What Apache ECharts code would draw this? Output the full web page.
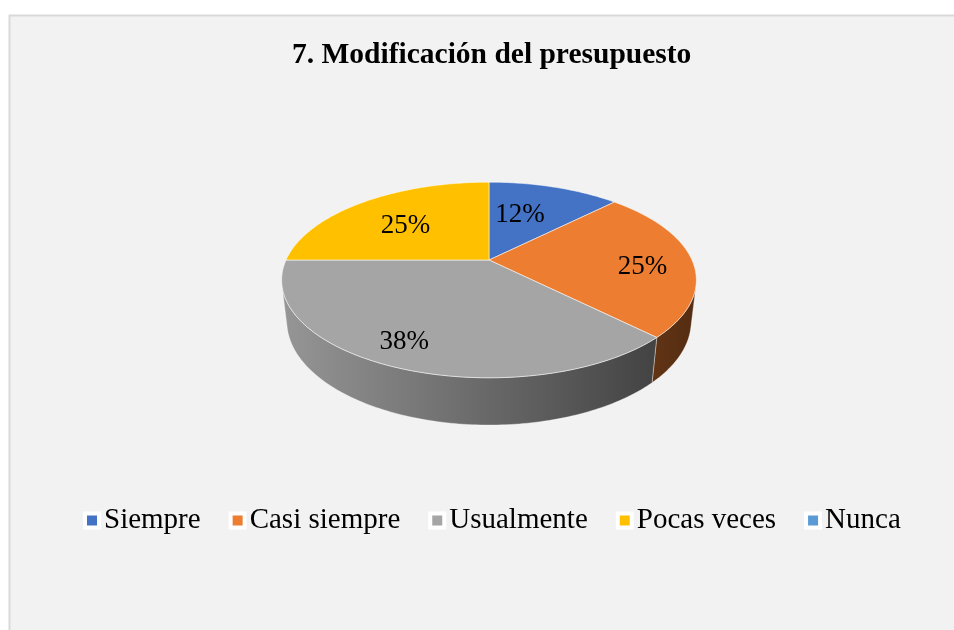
<!DOCTYPE html>
<html lang="es">
<head>
<meta charset="UTF-8">
<title>7. Modificación del presupuesto</title>
<style>
  html, body { margin: 0; padding: 0; background: #fff; }
  #chart { width: 954px; height: 630px; }
</style>
</head>
<body>
<div id="chart"></div>
<script src="https://cdn.jsdelivr.net/npm/echarts@6/dist/echarts.min.js"></script>
<script>
const categories = ['Siempre', 'Casi siempre', 'Usualmente', 'Pocas veces', 'Nunca'];
const percents = [12.5, 25, 37.5, 25, 0];
const percentLabels = ['12%', '25%', '38%', '25%', ''];
const colors = ['#4472C4', '#ED7D31', '#A5A5A5', '#FFC000', '#5B9BD5'];

// tilted pie seen in perspective (faked 3D, like Excel's 3-D pie)
const CX = 489, CY = 260, R = 203, H = 47, D = 882;
const tilt = 27.5 * Math.PI / 180;
const sinT = Math.sin(tilt), cosT = Math.cos(tilt);
// the outer wall faces the viewer between these angles
const wallFrom = Math.acos(-R / (D * cosT)) * 180 / Math.PI;
const wallTo = 360 - wallFrom;
// label placement: share of radius and angle nudge (deg) per slice
const labelRadius = [0.58, 0.75, 0.81, 0.61, 0.6];
const labelShift = [-5.5, 4, 3.5, -2, 0];

function project(phi, y, rf) {
    const a = phi * Math.PI / 180;
    const r = R * (rf === undefined ? 1 : rf);
    const X = r * Math.sin(a), Z = r * Math.cos(a);
    const u = Z * sinT + y * cosT;
    const w = Z * cosT - y * sinT;
    const s = D / (D + w);
    return [CX + X * s, CY - u * s];
}

function shade(hex, f) {
    const n = parseInt(hex.slice(1), 16);
    const r = Math.round(((n >> 16) & 255) * f);
    const g = Math.round(((n >> 8) & 255) * f);
    const b = Math.round((n & 255) * f);
    return 'rgb(' + r + ',' + g + ',' + b + ')';
}

function renderSlice(idx) {
    return function (params, api) {
        const v = api.value(0);
        const children = [];
        if (!(v > 0)) return { type: 'group', children: children };
        const total = percents.reduce((a, b) => a + b, 0);
        let start = 0;
        for (let k = 0; k < idx; k++) start += percents[k];
        const a0 = start / total * 360, a1 = (start + v) / total * 360;
        const c = colors[idx];

        // outer wall, only the part turned to the viewer
        const w0 = Math.max(a0, wallFrom), w1 = Math.min(a1, wallTo);
        if (w1 > w0) {
            const top = [], bot = [];
            for (let a = w0; ; a += 1) {
                const aa = Math.min(a, w1);
                top.push(project(aa, 0));
                bot.push(project(aa, -H));
                if (aa >= w1) break;
            }
            children.push({
                type: 'polygon', z2: 1,
                shape: { points: top.concat(bot.reverse()) },
                style: {
                    fill: {
                        type: 'linear', x: CX - R, y: 0, x2: CX + R, y2: 0, global: true,
                        colorStops: [
                            { offset: 0, color: shade(c, 0.9) },
                            { offset: 1, color: shade(c, 0.36) }
                        ]
                    },
                    stroke: 'rgba(255,255,255,0.35)', lineWidth: 1
                }
            });
        }

        // top face
        const pts = [project(0, 0, 0)];
        for (let a = a0; ; a += 1) {
            const aa = Math.min(a, a1);
            pts.push(project(aa, 0));
            if (aa >= a1) break;
        }
        children.push({
            type: 'polygon', z2: 2,
            shape: { points: pts },
            style: { fill: c, stroke: 'rgba(255,255,255,0.55)', lineWidth: 1 }
        });

        // percentage label
        const lp = project((a0 + a1) / 2 + labelShift[idx], 0, labelRadius[idx]);
        children.push({
            type: 'text', z2: 3, x: lp[0], y: lp[1] + 2,
            style: {
                text: percentLabels[idx],
                fontFamily: '"Liberation Serif", "Times New Roman", serif',
                fontSize: 27, fill: '#000',
                align: 'center', verticalAlign: 'middle'
            }
        });
        return { type: 'group', children: children };
    };
}

const chart = echarts.init(document.getElementById('chart'));
chart.setOption({
    animation: false,
    backgroundColor: '#fff',
    color: colors,
    graphic: [{
        type: 'rect', z: -10, silent: true,
        shape: { x: 9.5, y: 15.5, width: 980, height: 640 },
        style: { fill: '#F2F2F2', stroke: '#D9D9D9', lineWidth: 2 }
    }],
    title: {
        text: '7. Modificación del presupuesto',
        left: 287, top: 35,
        textStyle: {
            fontFamily: '"Liberation Serif", "Times New Roman", serif',
            fontSize: 29.5, fontWeight: 'bold', color: '#000'
        }
    },
    legend: {
        data: categories,
        left: 78, top: 501,
        icon: 'rect', itemWidth: 14, itemHeight: 14, itemGap: 28,
        selectedMode: false,
        itemStyle: { borderColor: '#fff', borderWidth: 4 },
        textStyle: {
            fontFamily: '"Liberation Serif", "Times New Roman", serif',
            fontSize: 29, color: '#000'
        }
    },
    series: categories.map((name, i) => ({
        type: 'custom',
        name: name,
        coordinateSystem: 'none',
        silent: true,
        itemStyle: { color: colors[i] },
        renderItem: renderSlice(i),
        data: [[percents[i]]]
    }))
});
</script>
</body>
</html>
